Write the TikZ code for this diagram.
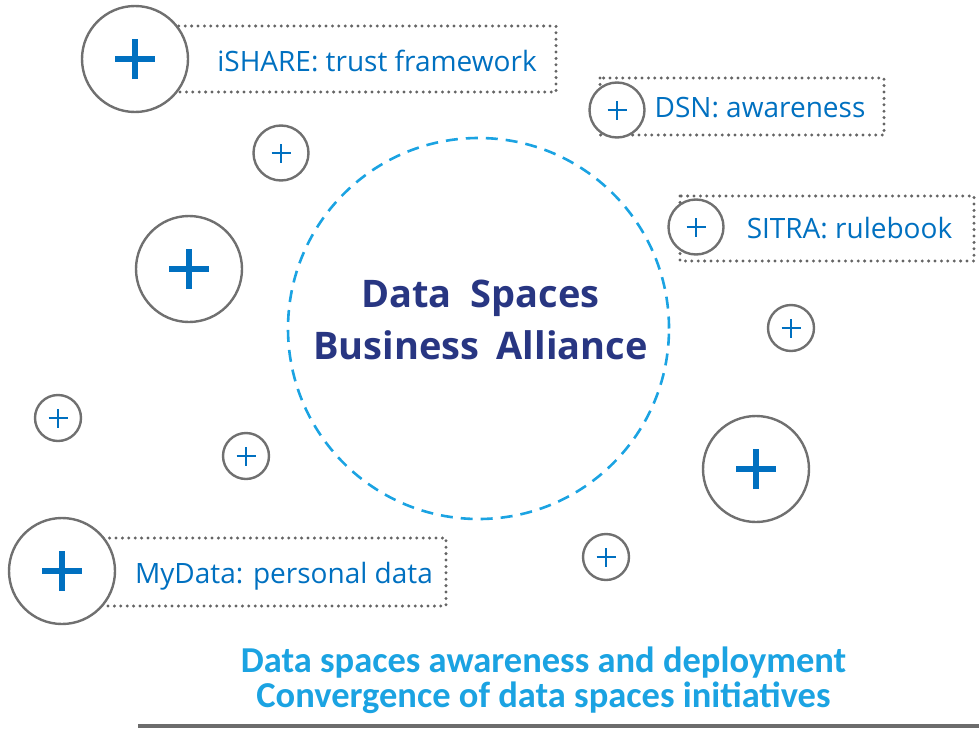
\documentclass[tikz,border=0pt]{standalone}
\usepackage{fontspec}
\newfontfamily\osans{Open Sans}
\newfontfamily\carl{Carlito}
\definecolor{cgray}{RGB}{112,112,112}
\definecolor{cdot}{RGB}{100,100,100}
\definecolor{cbar}{RGB}{108,108,108}
\definecolor{cblue}{RGB}{0,112,192}
\definecolor{ccyan}{RGB}{27,163,226}
\definecolor{cnavy}{RGB}{40,54,130}
\tikzset{
  dotbox/.style={draw=cdot, line width=3.3pt, line cap=round, dash pattern=on 0pt off 6.4pt},
  bub/.style n args={3}{circle, draw=cgray, line width=2.4pt, fill=white, inner sep=0pt, minimum size=#1,
    path picture={\draw[cblue, line width=#3]
      ([xshift=-#2]path picture bounding box.center) -- ([xshift=#2]path picture bounding box.center)
      ([yshift=-#2]path picture bounding box.center) -- ([yshift=#2]path picture bounding box.center);}},
  bigbub/.style={bub={106pt}{20pt}{5.5pt}},
  medbub/.style={bub={55pt}{9.5pt}{2.8pt}},
  smallbub/.style={bub={46pt}{9.5pt}{2.8pt}},
  tagtext/.style={text=cblue, font=\osans\fontsize{28}{34}\selectfont, anchor=base, inner sep=0pt},
  titletext/.style={text=cnavy, font=\osans\bfseries\fontsize{38}{46}\selectfont, anchor=base, inner sep=0pt},
  bottext/.style={text=ccyan, font=\carl\bfseries\fontsize{36.5}{40}\selectfont, anchor=base, inner sep=0pt},
  corecircle/.style={circle, draw=ccyan, line width=2.6pt, dash pattern=on 12pt off 8pt, minimum size=381pt, inner sep=0pt}
}
\begin{document}
\begin{tikzpicture}[x=1pt,y=-1pt]
\useasboundingbox (0,0) rectangle (979,728);
% dotted label boxes
\draw[dotbox] (150,26) rectangle (556,92);
\draw[dotbox] (600,78) rectangle (884,135);
\draw[dotbox] (680,196) rectangle (974,261);
\draw[dotbox] (80,538) rectangle (446,606);
% bubbles
\node[bigbub] (b1) at (135,59) {};
\node[medbub] (b2) at (617,110) {};
\node[medbub] (b3) at (696,227) {};
\node[bigbub] (b4) at (62,571) {};
\node[medbub] (b5) at (281,153) {};
\node[bigbub] (b6) at (189,269) {};
\node[smallbub] (b7) at (791,328) {};
\node[smallbub] (b8) at (58,418) {};
\node[smallbub] (b9) at (246,456) {};
\node[bigbub] (b10) at (756,469) {};
\node[smallbub] (b11) at (606,557) {};
% central dashed circle
\node[corecircle] (core) at (478.5,328.5) {};
% labels
\node[tagtext] (t1) at (377,71) {iSHARE: trust framework};
\node[tagtext] (t2) at (760,117) {DSN: awareness};
\node[tagtext] (t3) at (849.5,238) {SITRA: rulebook};
\node[tagtext] (t4) at (284,583) {MyData: personal data};
\node[titletext] (title1) at (480.5,307) {Data\hspace{0.5em}Spaces};
\node[titletext] (title2) at (480.5,359) {Business\hspace{0.45em}Alliance};
\node[bottext] (bt1) at (543.5,672) {Data spaces awareness and deployment};
\node[bottext] (bt2) at (543.5,707) {Convergence of data spaces initiatives};
\fill[cbar] (138,724) rectangle (979,728);
\end{tikzpicture}
\end{document}
